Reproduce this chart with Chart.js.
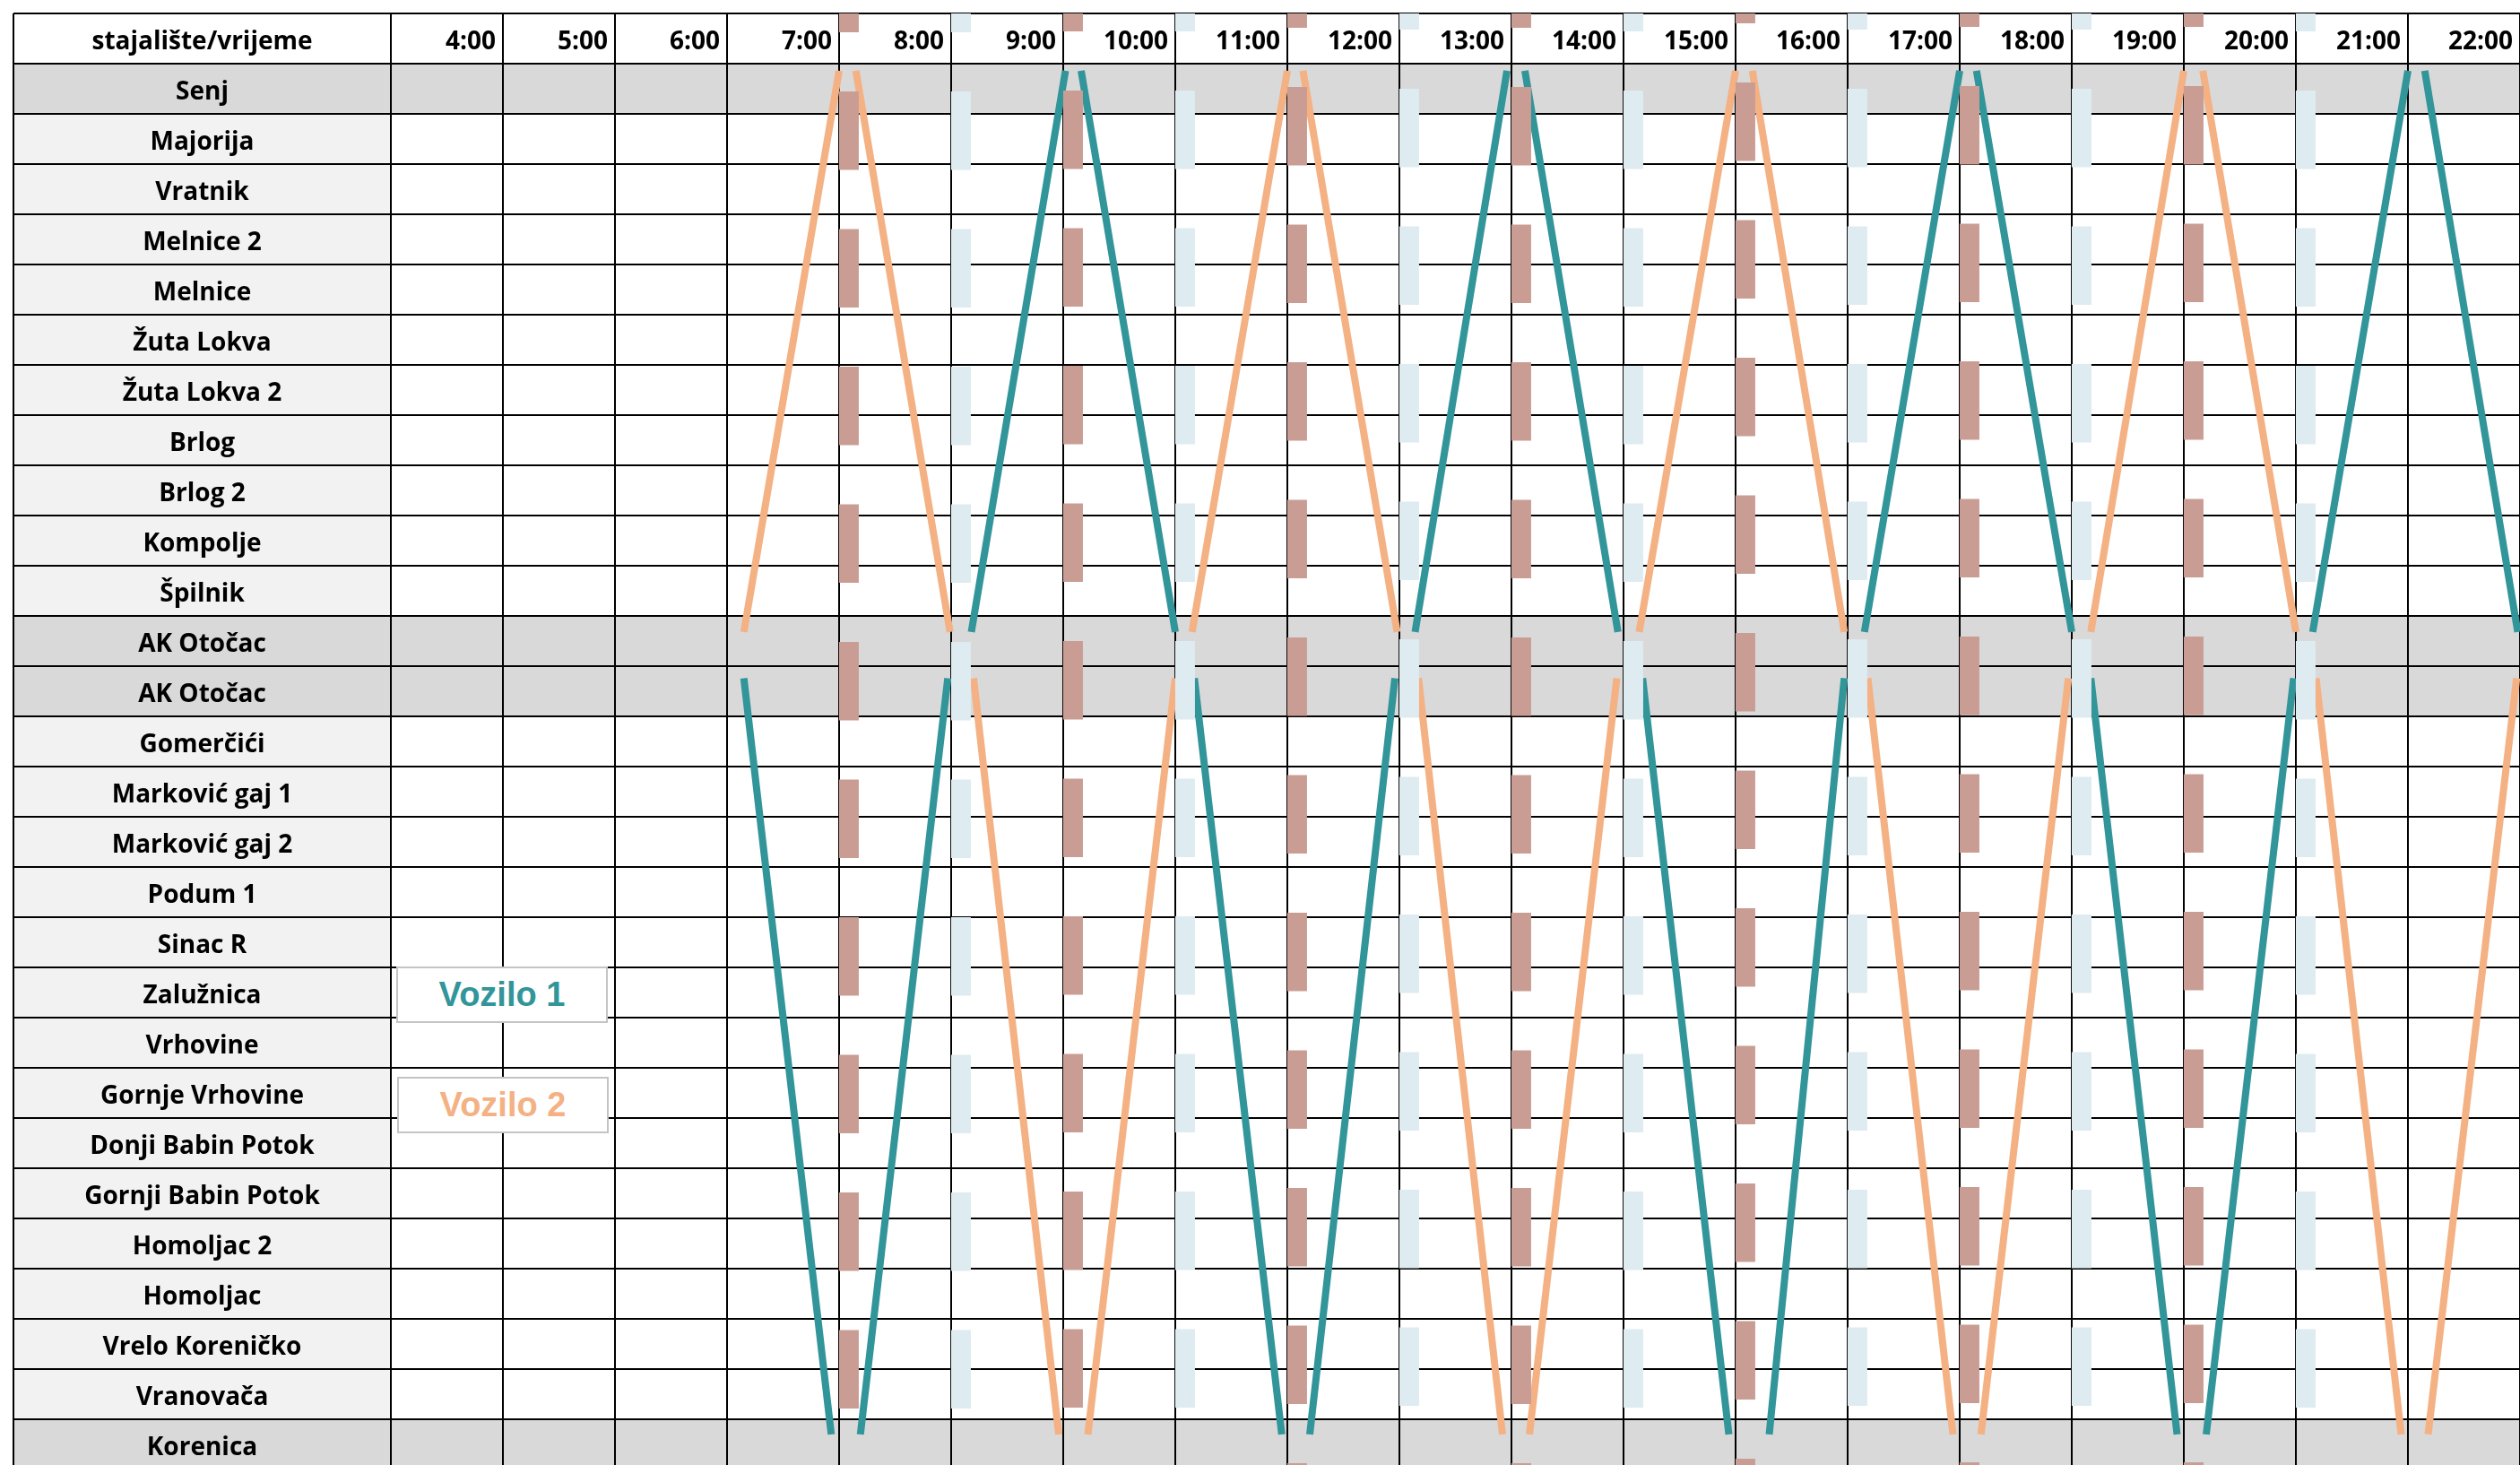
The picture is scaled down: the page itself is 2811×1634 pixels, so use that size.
<!DOCTYPE html>
<html lang="hr">
<head>
<meta charset="utf-8">
<title>Vozni red Senj - Otočac - Korenica</title>
<script src="https://cdn.jsdelivr.net/npm/chart.js@4.4.1/dist/chart.umd.min.js"></script>
<style>
	html, body { margin: 0; padding: 0; background: #fff; overflow: hidden; }
	#wrap { position: relative; width: 2811px; height: 1634px; }
	.vozilo {
		position: absolute; box-sizing: border-box; background: #fff;
		border: 2px solid #c4c4c4;
		font: bold 38px "Liberation Sans", Arial, sans-serif;
		display: flex; align-items: center; justify-content: center;
	}
</style>
</head>
<body>
<div id="wrap">
	<canvas id="timetable" width="2811" height="1634"></canvas>
	<div class="vozilo" id="leg1" style="left:442px;top:1078px;width:236px;height:63px;"></div>
	<div class="vozilo" id="leg2" style="left:443px;top:1201px;width:236px;height:63px;"></div>
</div>
<script>
/* data  ************************************************** */
var headerLabel = 'stajalište/vrijeme';
var stations = ['Senj', 'Majorija', 'Vratnik', 'Melnice 2', 'Melnice', 'Žuta Lokva', 'Žuta Lokva 2',
	'Brlog', 'Brlog 2', 'Kompolje', 'Špilnik', 'AK Otočac', 'AK Otočac', 'Gomerčići',
	'Marković gaj 1', 'Marković gaj 2', 'Podum 1', 'Sinac R', 'Zalužnica', 'Vrhovine',
	'Gornje Vrhovine', 'Donji Babin Potok', 'Gornji Babin Potok', 'Homoljac 2', 'Homoljac',
	'Vrelo Koreničko', 'Vranovača', 'Korenica'];
var terminals = ['Senj', 'AK Otočac', 'Korenica'];
var hours = [4, 5, 6, 7, 8, 9, 10, 11, 12, 13, 14, 15, 16, 17, 18, 19, 20, 21, 22];

// where the trips start / end, in rows from the top of the Senj row
var stopY = { senj: 0.14, otocacSjever: 11.32, otocacJug: 12.24, korenica: 27.3 };

var vehicles = ['Vozilo 1', 'Vozilo 2'];

// Vozilo 1
var vozilo1Od = ['otocacJug', 'korenica', 'otocacSjever', 'senj', 'otocacJug', 'korenica', 'otocacSjever', 'senj',
	'otocacJug', 'korenica', 'otocacSjever', 'senj', 'otocacJug', 'korenica', 'otocacSjever', 'senj'];
var vozilo1Do = ['korenica', 'otocacJug', 'senj', 'otocacSjever', 'korenica', 'otocacJug', 'senj', 'otocacSjever',
	'korenica', 'otocacJug', 'senj', 'otocacSjever', 'korenica', 'otocacJug', 'senj', 'otocacSjever'];
var vozilo1Polazak = [6.15, 7.19, 8.18, 9.16, 10.17, 11.2, 12.14, 13.12, 14.17, 15.3, 16.15, 17.15, 18.17, 19.2, 20.15, 21.15];
var vozilo1Dolazak = [6.93, 7.97, 9.02, 10.0, 10.95, 11.96, 12.96, 13.95, 14.94, 15.97, 17.0, 18.0, 18.94, 19.98, 21.0, 21.98];

// Vozilo 2
var vozilo2Od = ['otocacSjever', 'senj', 'otocacJug', 'korenica', 'otocacSjever', 'senj', 'otocacJug', 'korenica',
	'otocacSjever', 'senj', 'otocacJug', 'korenica', 'otocacSjever', 'senj', 'otocacJug', 'korenica'];
var vozilo2Do = ['senj', 'otocacSjever', 'korenica', 'otocacJug', 'senj', 'otocacSjever', 'korenica', 'otocacJug',
	'senj', 'otocacSjever', 'korenica', 'otocacJug', 'senj', 'otocacSjever', 'korenica', 'otocacJug'];
var vozilo2Polazak = [6.15, 7.15, 8.2, 9.22, 10.15, 11.14, 12.17, 13.16, 14.14, 15.15, 16.18, 17.19, 18.17, 19.17, 20.18, 21.18];
var vozilo2Dolazak = [7.0, 7.99, 8.96, 10.0, 11.0, 11.98, 12.92, 13.94, 15.0, 15.97, 16.94, 17.97, 19.0, 20.0, 20.94, 21.97];

// pause marks (start hour), length in minutes
var stankeA = [7, 9, 11, 13, 15, 17, 19];
var stankeB = [8, 10, 12, 14, 16, 18, 20];
var stankaMin = 10.5;

/* style  ************************************************** */
var FONT = 'Open Sans';
var colors = ['#31959a', '#f4b183'];
var markColorA = '#c99d94', markColorB = '#deebf0';
var dashOn = 87.5, dashOff = 66;
// y pixel where the first whole dash starts, per mark
var dashStartA = [102, 101, 97, 97, 92, 96, 96];
var dashStartB = [102, 101, 99, 101, 99, 99, 101];
var labelColW = 421, tableTop = 15;

/* helpers  ************************************************** */
function tripPoints(od, dest, dep, arr) {
	var pts = [];
	for (var i = 0; i < dep.length; i++) {
		pts.push({ x: dep[i], y: stopY[od[i]] });
		pts.push({ x: arr[i], y: stopY[dest[i]] });
		pts.push({ x: arr[i], y: null }); // break between trips
	}
	return pts;
}

function markDataset(t, color, startPx) {
	var cx = t + stankaMin / 120;
	var period = dashOn + dashOff;
	return {
		type: 'line',
		data: [{ x: cx, y: -1 }, { x: cx, y: 27.91 }],
		borderColor: color,
		borderWidth: 22,
		borderCapStyle: 'butt',
		borderDash: [dashOn, dashOff],
		borderDashOffset: (((tableTop - startPx) % period) + period) % period,
		pointRadius: 0,
		order: 0
	};
}

var rowLabels = [headerLabel].concat(stations).concat(['']);

// centre the station names in the first column
var mctx = document.createElement('canvas').getContext('2d');
mctx.font = 'bold 28px "' + FONT + '"';
var widest = 0;
rowLabels.forEach(function (t) { widest = Math.max(widest, mctx.measureText(t).width); });
var yPad = tableTop - (tableTop + labelColW / 2) - widest / 2;

/* row shading + outer border  ************************************************** */
var tablePlugin = {
	id: 'tablePlugin',
	beforeDraw: function (chart) {
		var ctx = chart.ctx, area = chart.chartArea, y = chart.scales.y;
		var left = y.left;
		ctx.save();
		stations.forEach(function (name, i) {
			var top = y.getPixelForValue(i), bottom = y.getPixelForValue(i + 1);
			if (terminals.indexOf(name) >= 0) {
				ctx.fillStyle = '#d9d9d9';
				ctx.fillRect(left, top, area.right - left, bottom - top);
			} else {
				ctx.fillStyle = '#f2f2f2';
				ctx.fillRect(left, top, area.left - left, bottom - top);
			}
		});
		ctx.restore();
	},
	beforeDatasetsDraw: function (chart) {
		var ctx = chart.ctx, y = chart.scales.y;
		ctx.save();
		ctx.strokeStyle = '#000';
		ctx.lineWidth = 2;
		ctx.beginPath();
		ctx.moveTo(y.left, y.getPixelForValue(-1));
		ctx.lineTo(y.left, chart.chartArea.bottom);
		ctx.stroke();
		ctx.restore();
	}
};

/* chart  ************************************************** */
var datasets = [
	{
		label: vehicles[0],
		data: tripPoints(vozilo1Od, vozilo1Do, vozilo1Polazak, vozilo1Dolazak),
		borderColor: colors[0], borderWidth: 8, borderCapStyle: 'butt',
		pointRadius: 0, spanGaps: false, order: 1
	},
	{
		label: vehicles[1],
		data: tripPoints(vozilo2Od, vozilo2Do, vozilo2Polazak, vozilo2Dolazak),
		borderColor: colors[1], borderWidth: 8, borderCapStyle: 'butt',
		pointRadius: 0, spanGaps: false, order: 1
	}
];
stankeA.forEach(function (t, i) { datasets.push(markDataset(t, markColorA, dashStartA[i])); });
stankeB.forEach(function (t, i) { datasets.push(markDataset(t, markColorB, dashStartB[i])); });

var ctx = document.getElementById('timetable').getContext('2d');
var timetable = new Chart(ctx, {
	type: 'line',
	data: { datasets: datasets },
	plugins: [tablePlugin],
	options: {
		responsive: false,
		animation: false,
		layout: { padding: { left: tableTop, top: tableTop, right: 0, bottom: 0 } },
		plugins: { legend: { display: false }, tooltip: { enabled: false } },
		scales: {
			x: {
				type: 'linear', position: 'top', min: 3, max: 22,
				afterBuildTicks: function (s) {
					s.ticks = [3].concat(hours).map(function (v) { return { value: v }; });
				},
				afterFit: function (s) { s.height = 0; s.paddingLeft = 0; s.paddingRight = 0; },
				ticks: {
					callback: function (v) { return hours.indexOf(v) >= 0 ? v + ':00' : ''; },
					mirror: true, align: 'end', labelOffset: -8, padding: 4,
					autoSkip: false, maxRotation: 0, color: '#000',
					font: { family: FONT, size: 28, weight: 'bold', lineHeight: 2 }
				},
				grid: { color: '#000', lineWidth: 2, drawTicks: false },
				border: { display: false }
			},
			y: {
				type: 'linear', position: 'left', reverse: true, min: -1, max: 27.91,
				afterBuildTicks: function (s) {
					s.ticks = rowLabels.map(function (l, i) { return { value: i - 0.5 }; });
				},
				afterFit: function (s) { s.width = labelColW; s.paddingTop = 0; s.paddingBottom = 0; },
				ticks: {
					callback: function (v, i) { return rowLabels[i] || ''; },
					crossAlign: 'center', padding: yPad, labelOffset: 4, autoSkip: false, color: '#000',
					font: { family: FONT, size: 28, weight: 'bold' }
				},
				grid: { offset: true, color: '#000', lineWidth: 2, drawTicks: true, tickLength: labelColW },
				border: { display: false }
			}
		}
	}
});

// vehicle labels
[document.getElementById('leg1'), document.getElementById('leg2')].forEach(function (el, i) {
	el.textContent = vehicles[i];
	el.style.color = colors[i];
});
</script>
</body>
</html>
